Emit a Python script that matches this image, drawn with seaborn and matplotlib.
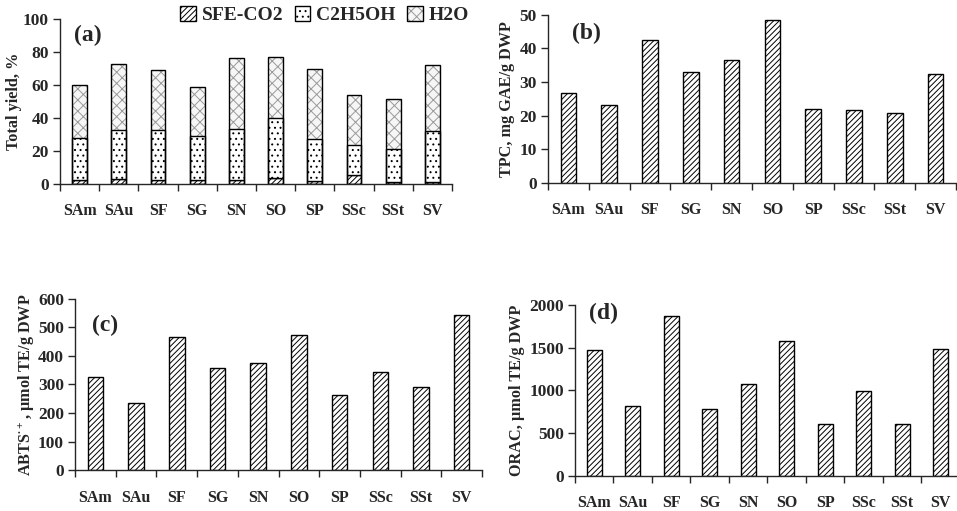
import numpy as np
import pandas as pd
import seaborn as sns
import matplotlib.pyplot as plt
from matplotlib.patches import Patch

samples = ['SAm', 'SAu', 'SF', 'SG', 'SN', 'SO', 'SP', 'SSc', 'SSt', 'SV']

# panel (a) stacked yields, %
sfe_co2 = [2.2, 3.0, 2.2, 2.2, 2.2, 3.6, 2.0, 5.4, 1.2, 1.2]
c2h5oh = [25.8, 29.7, 30.5, 26.7, 31.1, 36.4, 25.0, 18.0, 19.8, 30.8]
h2o = [32.0, 40.0, 36.2, 30.1, 43.1, 37.2, 42.7, 30.3, 30.5, 39.9]

tpc = [26.8, 23.2, 42.6, 33.0, 36.6, 48.5, 22.1, 21.7, 20.9, 32.5]
abts = [326, 235, 465, 357, 375, 474, 262, 344, 290, 542]
orac = [1473, 812, 1867, 781, 1078, 1578, 609, 988, 609, 1488]

sns.set_style('ticks')
plt.rcParams['font.family'] = ['Liberation Serif', 'DejaVu Serif']
plt.rcParams['font.weight'] = 'bold'
plt.rcParams['mathtext.fontset'] = 'custom'
plt.rcParams['mathtext.rm'] = 'Liberation Serif:bold'
plt.rcParams['mathtext.bf'] = 'Liberation Serif:bold'
plt.rcParams['hatch.linewidth'] = 0.7

h2o_hatch_col = '#9a9a9a'
etoh_hatch = '...'

fig = plt.figure(figsize=(9.57, 5.11), dpi=100)
ax_a = fig.add_axes([0.0627, 0.640, 0.4096, 0.323])
ax_b = fig.add_axes([0.5726, 0.642, 0.4264, 0.329])
ax_c = fig.add_axes([0.0784, 0.0796, 0.4253, 0.336])
ax_d = fig.add_axes([0.6008, 0.069, 0.4023, 0.334])

df = pd.DataFrame({'sample': samples, 'sfe': sfe_co2, 'etoh': c2h5oh,
                   'h2o': h2o, 'tpc': tpc, 'abts': abts, 'orac': orac})
df['etoh_bottom'] = df.sfe
df['h2o_bottom'] = df.sfe + df.etoh
df['total'] = df.sfe + df.etoh + df.h2o

bar_kw = dict(width=0.38, edgecolor='black', linewidth=1.0, errorbar=None)

# (a) stacked bars: water layer gets grey hatch, then an outline on top
sns.barplot(data=df, x='sample', y='h2o', ax=ax_a, hatch='xxx', color='#f6f6f6',
            bottom=df.h2o_bottom.values, width=0.38, edgecolor=h2o_hatch_col,
            linewidth=0, errorbar=None)
sns.barplot(data=df, x='sample', y='sfe', ax=ax_a, hatch='//////', color='white', **bar_kw)
sns.barplot(data=df, x='sample', y='etoh', ax=ax_a, hatch=etoh_hatch, color='white',
            bottom=df.etoh_bottom.values, **bar_kw)
sns.barplot(data=df, x='sample', y='total', ax=ax_a, fill=False, color='black',
            width=0.38, linewidth=1.0, errorbar=None)

sns.barplot(data=df, x='sample', y='tpc', ax=ax_b, hatch='//////', color='white', **bar_kw)
sns.barplot(data=df, x='sample', y='abts', ax=ax_c, hatch='//////', color='white', **bar_kw)
sns.barplot(data=df, x='sample', y='orac', ax=ax_d, hatch='//////', color='white', **bar_kw)

setup = [
    (ax_a, 'Total yield, %', 100, 20, '(a)', (0.036, 0.90), 1),
    (ax_b, 'TPC, mg GAE/g DWP', 50, 10, '(b)', (0.059, 0.89), 3),
    (ax_c, r'ABTS$^{\bullet+}$, µmol TE/g DWP', 600, 100, '(c)', (0.042, 0.845), 1),
    (ax_d, 'ORAC, µmol TE/g DWP', 2000, 500, '(d)', (0.036, 0.953), 3),
]
for ax, ylab, ymax, step, tag, pos, lpad in setup:
    ax.set_xlim(-0.5, 9.5)
    ax.set_ylim(0, ymax)
    ax.set_yticks(np.arange(0, ymax + 1, step))
    ax.set_xticks(range(len(samples)))
    ax.set_xticklabels(samples)
    ax.set_xticks(np.arange(-0.5, 10, 1), minor=True)
    ax.tick_params(axis='x', which='major', length=0, pad=14, labelsize=11.5)
    ax.tick_params(axis='x', which='minor', length=5, width=1, direction='out')
    ax.tick_params(axis='y', length=5, width=1, labelsize=12.5, pad=3)
    for lab in ax.get_xticklabels() + ax.get_yticklabels():
        lab.set_fontweight('bold')
    ax.set_xlabel('')
    ax.set_ylabel(ylab, fontsize=11.7, fontweight='bold', labelpad=lpad)
    ax.spines['top'].set_visible(False)
    ax.spines['right'].set_visible(False)
    ax.spines['left'].set_linewidth(1)
    ax.spines['bottom'].set_linewidth(1)
    ax.text(pos[0], pos[1], tag, transform=ax.transAxes, fontsize=17,
            fontweight='bold', va='center', ha='left')

outline = Patch(facecolor='none', edgecolor='black', linewidth=1.0)
handles = [Patch(facecolor='white', edgecolor='black', hatch='//////'),
           Patch(facecolor='white', edgecolor='black', hatch=etoh_hatch),
           (Patch(facecolor='#f6f6f6', edgecolor=h2o_hatch_col, hatch='xxx', linewidth=0),
            outline)]
fig.legend(handles=handles, labels=['SFE-CO2', 'C2H5OH', 'H2O'],
           loc='center left', bbox_to_anchor=(0.178, 0.970),
           ncol=3, frameon=False, handlelength=0.8,
           handleheight=0.8, handletextpad=0.3, columnspacing=0.6,
           borderpad=0, prop={'weight': 'bold', 'size': 14})

fig.savefig('out.png', dpi=100)
